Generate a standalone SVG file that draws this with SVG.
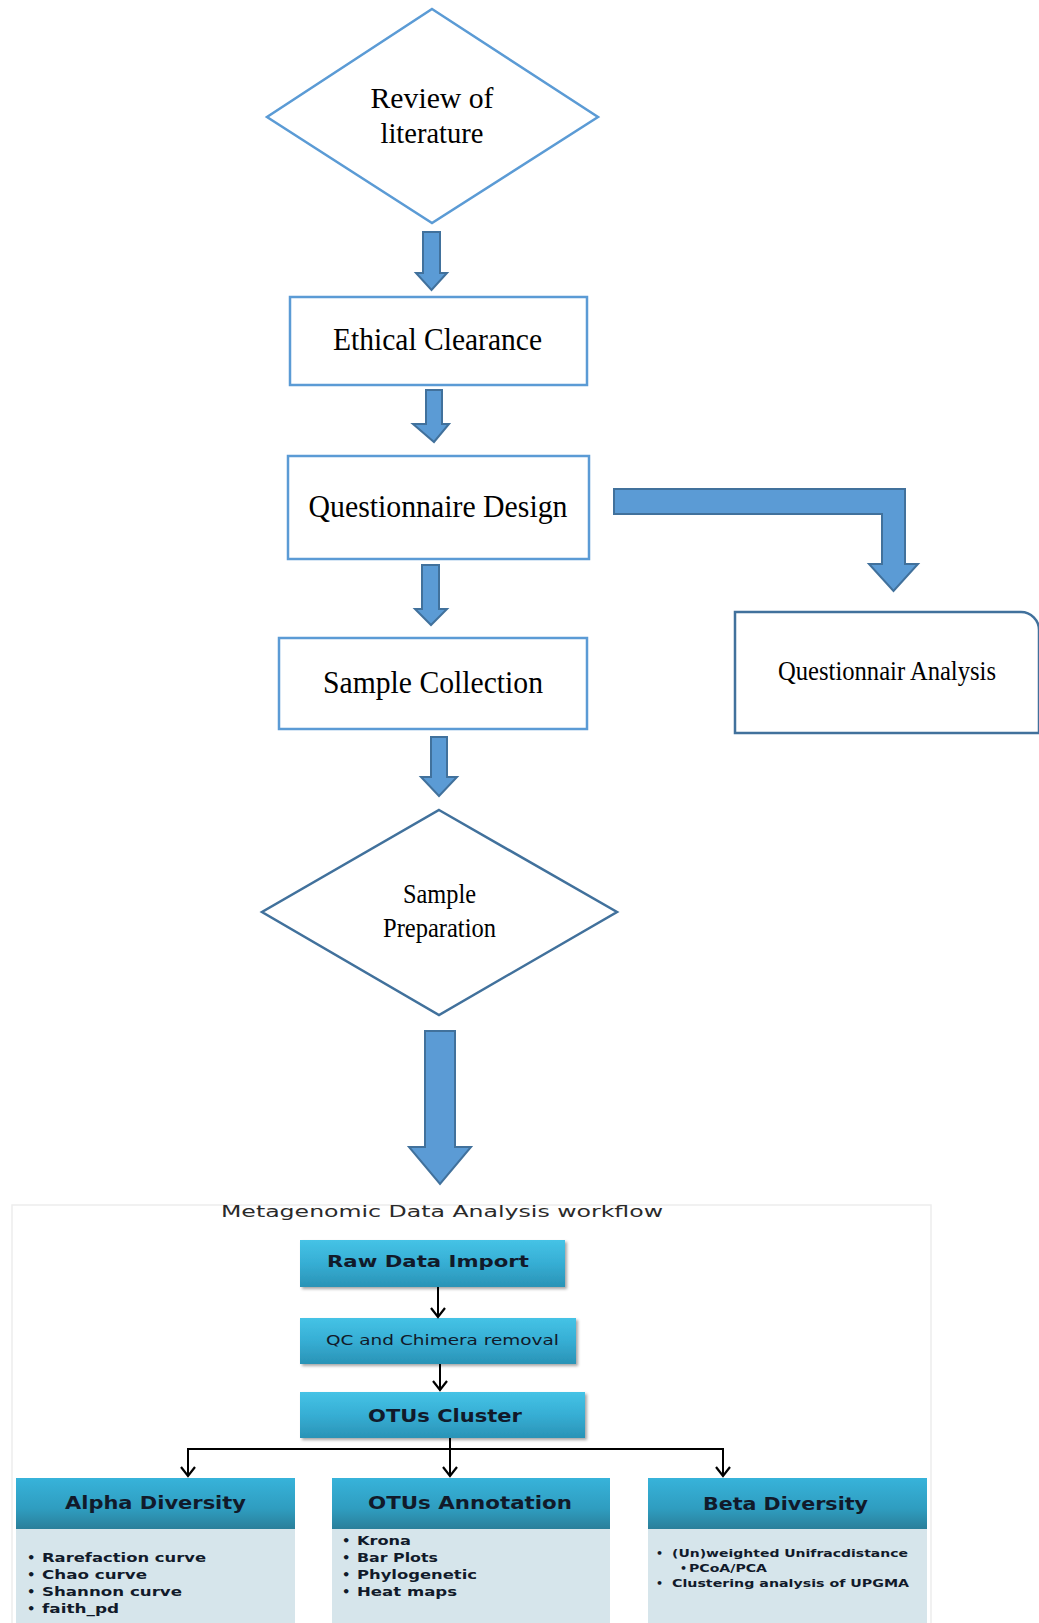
<svg xmlns="http://www.w3.org/2000/svg" width="1039" height="1623" viewBox="0 0 1039 1623">
<style>
.serif{font-family:"Liberation Serif","Times New Roman",serif;fill:#000;text-anchor:middle}
.lbl{stroke:#5B9BD5;stroke-width:2.5;fill:#fff}
.dark{stroke:#41719C;stroke-width:2.5;fill:#fff}
.barrow{fill:#5B9BD5;stroke:#41719C;stroke-width:2}
.sans{font-family:"DejaVu Sans","Liberation Sans",sans-serif;fill:#111a2a}
.b{font-weight:bold}
.wire{stroke:#000;stroke-width:2;fill:none}
.body{fill:#D6E5EB}
</style>
<defs>
<linearGradient id="gBox" x1="0" y1="0" x2="0" y2="1">
<stop offset="0" stop-color="#45C3E6"/>
<stop offset="0.5" stop-color="#36AED4"/>
<stop offset="1" stop-color="#2A93B6"/>
</linearGradient>
<linearGradient id="gHead" x1="0" y1="0" x2="0" y2="1">
<stop offset="0" stop-color="#37B3DA"/>
<stop offset="0.6" stop-color="#2F9DC0"/>
<stop offset="1" stop-color="#2A7F9A"/>
</linearGradient>
<filter id="sh" x="-5%" y="-10%" width="115%" height="140%">
<feDropShadow dx="2" dy="2" stdDeviation="1.5" flood-color="#000" flood-opacity="0.35"/>
</filter>
<marker id="chev" markerUnits="userSpaceOnUse" markerWidth="20" markerHeight="20" refX="0" refY="0" orient="auto" overflow="visible">
<path d="M-9,-7 L0,0 L-9,7" fill="none" stroke="#000" stroke-width="2.2"/>
</marker>
</defs>
<rect width="1039" height="1623" fill="#fff"/>

<g id="review">
<polygon class="lbl" points="432,9 598,117 432,223 267,117"/>
<text class="serif" x="432" y="108" font-size="29" textLength="123" lengthAdjust="spacingAndGlyphs">Review of</text>
<text class="serif" x="432" y="143" font-size="29" textLength="103" lengthAdjust="spacingAndGlyphs">literature</text>
</g>

<g id="ethical">
<rect class="lbl" x="290" y="297" width="297" height="88"/>
<text class="serif" x="437.5" y="350" font-size="32" textLength="209" lengthAdjust="spacingAndGlyphs">Ethical Clearance</text>
</g>

<g id="questionnaire">
<rect class="lbl" x="288" y="456" width="301" height="103"/>
<text class="serif" x="438" y="517" font-size="32" textLength="259" lengthAdjust="spacingAndGlyphs">Questionnaire Design</text>
</g>

<g id="collection">
<rect class="lbl" x="279" y="638" width="308" height="91"/>
<text class="serif" x="433" y="693" font-size="32" textLength="220" lengthAdjust="spacingAndGlyphs">Sample Collection</text>
</g>

<g id="analysis">
<path class="dark" d="M735,612 H1021 A18,18 0 0 1 1039,630 V733 H735 Z"/>
<text class="serif" x="887" y="680" font-size="27" textLength="218" lengthAdjust="spacingAndGlyphs">Questionnair Analysis</text>
</g>

<g id="preparation">
<polygon class="dark" points="439,810 617,912 439,1015 262,912"/>
<text class="serif" x="439.5" y="903" font-size="27" textLength="73" lengthAdjust="spacingAndGlyphs">Sample</text>
<text class="serif" x="439.5" y="937" font-size="27" textLength="113" lengthAdjust="spacingAndGlyphs">Preparation</text>
</g>

<g id="panel">
<rect x="12" y="1205" width="919" height="430" fill="#fff" stroke="#EDEDED" stroke-width="1.5"/>
<text class="sans" x="221" y="1217" font-size="16" textLength="442" lengthAdjust="spacingAndGlyphs" style="fill:#2a2a2a">Metagenomic Data Analysis workflow</text>
</g>

<g id="raw">
<rect x="300" y="1240" width="265" height="47" fill="url(#gBox)" filter="url(#sh)"/>
<text class="sans b" x="327" y="1267" font-size="16" textLength="202" lengthAdjust="spacingAndGlyphs">Raw Data Import</text>
</g>

<g id="qc">
<rect x="300" y="1318" width="276" height="46" fill="url(#gBox)" filter="url(#sh)"/>
<text class="sans" x="326" y="1345" font-size="14.5" textLength="233" lengthAdjust="spacingAndGlyphs">QC and Chimera removal</text>
</g>

<g id="otus-cluster">
<rect x="300" y="1392" width="285" height="46" fill="url(#gBox)" filter="url(#sh)"/>
<text class="sans b" x="368" y="1422" font-size="17" textLength="154" lengthAdjust="spacingAndGlyphs">OTUs Cluster</text>
</g>

<g id="alpha">
<rect class="body" x="16" y="1529" width="279" height="100"/>
<rect x="16" y="1478" width="279" height="51" fill="url(#gHead)"/>
<text class="sans b" x="65" y="1509" font-size="18" textLength="181" lengthAdjust="spacingAndGlyphs">Alpha Diversity</text>
<g font-size="13" class="sans b">
<text x="27" y="1562">•</text><text x="42" y="1562" textLength="164" lengthAdjust="spacingAndGlyphs">Rarefaction curve</text>
<text x="27" y="1579">•</text><text x="42" y="1579" textLength="105" lengthAdjust="spacingAndGlyphs">Chao curve</text>
<text x="27" y="1596">•</text><text x="42" y="1596" textLength="140" lengthAdjust="spacingAndGlyphs">Shannon curve</text>
<text x="27" y="1613">•</text><text x="42" y="1613" textLength="77" lengthAdjust="spacingAndGlyphs">faith_pd</text>
</g>
</g>

<g id="annotation">
<rect class="body" x="332" y="1529" width="278" height="100"/>
<rect x="332" y="1478" width="278" height="51" fill="url(#gHead)"/>
<text class="sans b" x="368" y="1509" font-size="18" textLength="204" lengthAdjust="spacingAndGlyphs">OTUs Annotation</text>
<g font-size="13" class="sans b">
<text x="342" y="1545">•</text><text x="357" y="1545" textLength="54" lengthAdjust="spacingAndGlyphs">Krona</text>
<text x="342" y="1562">•</text><text x="357" y="1562" textLength="81" lengthAdjust="spacingAndGlyphs">Bar Plots</text>
<text x="342" y="1579">•</text><text x="357" y="1579" textLength="120" lengthAdjust="spacingAndGlyphs">Phylogenetic</text>
<text x="342" y="1596">•</text><text x="357" y="1596" textLength="100" lengthAdjust="spacingAndGlyphs">Heat maps</text>
</g>
</g>

<g id="beta">
<rect class="body" x="648" y="1529" width="279" height="100"/>
<rect x="648" y="1478" width="279" height="51" fill="url(#gHead)"/>
<text class="sans b" x="703" y="1510" font-size="18" textLength="165" lengthAdjust="spacingAndGlyphs">Beta Diversity</text>
<g font-size="11" class="sans b">
<text x="656" y="1557">•</text><text x="672" y="1557" textLength="236" lengthAdjust="spacingAndGlyphs">(Un)weighted  Unifracdistance</text>
<text x="680" y="1572">•</text><text x="689" y="1572" textLength="78" lengthAdjust="spacingAndGlyphs">PCoA/PCA</text>
<text x="656" y="1587">•</text><text x="672" y="1587" textLength="237" lengthAdjust="spacingAndGlyphs">Clustering  analysis  of  UPGMA</text>
</g>
</g>

<g id="connectors">
<polygon class="barrow" points="423,232 440,232 440,273 447,273 431.5,290 416,273 423,273"/>
<polygon class="barrow" points="426,390 442,390 442,424 449,424 434,442 413,424 426,424"/>
<polygon class="barrow" points="422,565 439,565 439,609 447,609 431,625 415,609 422,609"/>
<polygon class="barrow" points="431,737 447,737 447,777 457,777 439,796 421,777 431,777"/>
<polygon class="barrow" points="425,1031 455,1031 455,1147 471,1147 440,1184 409,1147 425,1147"/>
<path class="barrow" d="M614,489 H905 V564 H918 L893.5,591 L869,564 H882 V514 H614 Z"/>
<line class="wire" x1="438" y1="1287" x2="438" y2="1317" marker-end="url(#chev)"/>
<line class="wire" x1="440" y1="1364" x2="440" y2="1390" marker-end="url(#chev)"/>
<line class="wire" x1="450" y1="1438" x2="450" y2="1449"/>
<line class="wire" x1="188" y1="1449" x2="723" y2="1449"/>
<line class="wire" x1="188" y1="1448" x2="188" y2="1476" marker-end="url(#chev)"/>
<line class="wire" x1="450" y1="1449" x2="450" y2="1476" marker-end="url(#chev)"/>
<line class="wire" x1="723" y1="1448" x2="723" y2="1476" marker-end="url(#chev)"/>
</g>
</svg>
